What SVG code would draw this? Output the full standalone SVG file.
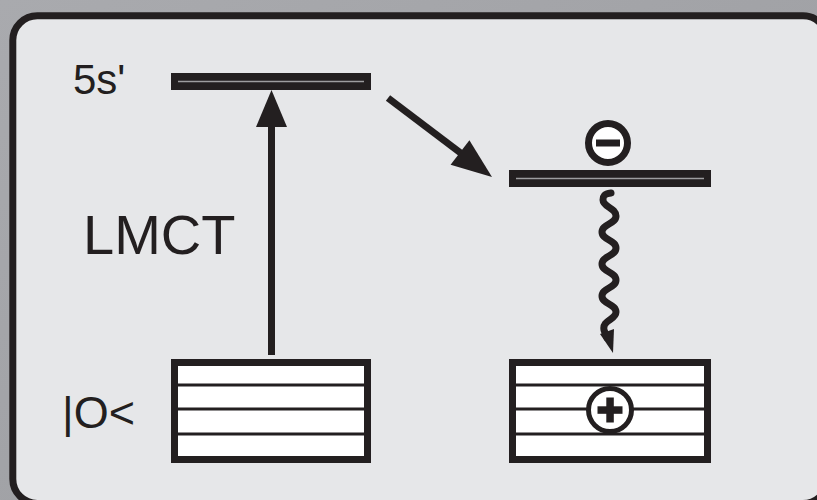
<svg xmlns="http://www.w3.org/2000/svg" width="817" height="500" viewBox="0 0 817 500">
  <defs>
    <linearGradient id="bg" x1="0" y1="0" x2="1" y2="1">
      <stop offset="0" stop-color="#a9aaae"/>
      <stop offset="1" stop-color="#9a9b9f"/>
    </linearGradient>
    <style>
      .lbl { font-family: "Liberation Sans", Arial, sans-serif; fill: #231f20; }
      .bar { fill: #231f20; }
      .barline { stroke: #9d9d9f; stroke-width: 1.5; }
      .box { fill: #ffffff; stroke: #231f20; stroke-width: 7; }
      .row { stroke: #231f20; stroke-width: 3; }
      .ink { fill: #231f20; }
      .shaft { stroke: #231f20; stroke-width: 7; fill: none; }
    </style>
  </defs>

  <rect x="0" y="0" width="817" height="500" fill="url(#bg)"/>
  <rect id="panel" x="12.8" y="15.8" width="814.7" height="487.7" rx="24.5" ry="24.5" fill="#e6e7e9" stroke="#231f20" stroke-width="7"/>

  <g id="label-5s">
    <text class="lbl" x="73" y="94" font-size="42">5s'</text>
  </g>
  <g id="label-lmct">
    <text class="lbl" x="83" y="254" font-size="56">LMCT</text>
  </g>
  <g id="label-o">
    <text class="lbl" x="62" y="428" font-size="45">|O&lt;</text>
  </g>

  <g id="level-5s">
    <rect class="bar" x="171" y="73" width="200" height="17"/>
    <line class="barline" x1="178" y1="81.5" x2="364" y2="81.5"/>
  </g>

  <g id="level-acceptor">
    <rect class="bar" x="509" y="170" width="202" height="17"/>
    <line class="barline" x1="516" y1="178.5" x2="704" y2="178.5"/>
    <circle cx="608" cy="143" r="19.5" fill="#ffffff" stroke="#231f20" stroke-width="7"/>
    <rect class="ink" x="596" y="139.5" width="24" height="7"/>
  </g>

  <g id="band-left">
    <rect class="box" x="174.5" y="362.5" width="193" height="97"/>
    <line class="row" x1="178" y1="385" x2="364" y2="385"/>
    <line class="row" x1="178" y1="409" x2="364" y2="409"/>
    <line class="row" x1="178" y1="434" x2="364" y2="434"/>
  </g>

  <g id="band-right">
    <rect class="box" x="512.5" y="362.5" width="195" height="97"/>
    <line class="row" x1="516" y1="385" x2="704" y2="385"/>
    <line class="row" x1="516" y1="409" x2="704" y2="409"/>
    <line class="row" x1="516" y1="434" x2="704" y2="434"/>
    <circle cx="610" cy="410" r="21.5" fill="#ffffff" stroke="#231f20" stroke-width="5"/>
    <rect class="ink" x="597.5" y="406.3" width="25" height="7.5"/>
    <rect class="ink" x="606.3" y="397.5" width="7.5" height="25"/>
  </g>

  <g id="connectors">
    <line class="shaft" x1="271.5" y1="355" x2="271.5" y2="122"/>
    <polygon class="ink" points="271.5,90 256,127 287,127"/>

    <line class="shaft" x1="388" y1="98" x2="462" y2="154"/>
    <polygon class="ink" points="492,177 450.6,164.8 469.4,140.2"/>

    <path class="shaft" stroke-width="6.5" stroke-linecap="round" d="M611,193 C604,194 603,196 603,200 C603,207 616,208 616,216 S602,224 602,232 S616,240 616,248 S602,256 602,264 S616,272 616,280 S602,288 602,296 S616,304 616,312 S602,320 604,330 L607,338"/>
    <polygon class="ink" points="600,334 614,329 613,353"/>
  </g>
</svg>
